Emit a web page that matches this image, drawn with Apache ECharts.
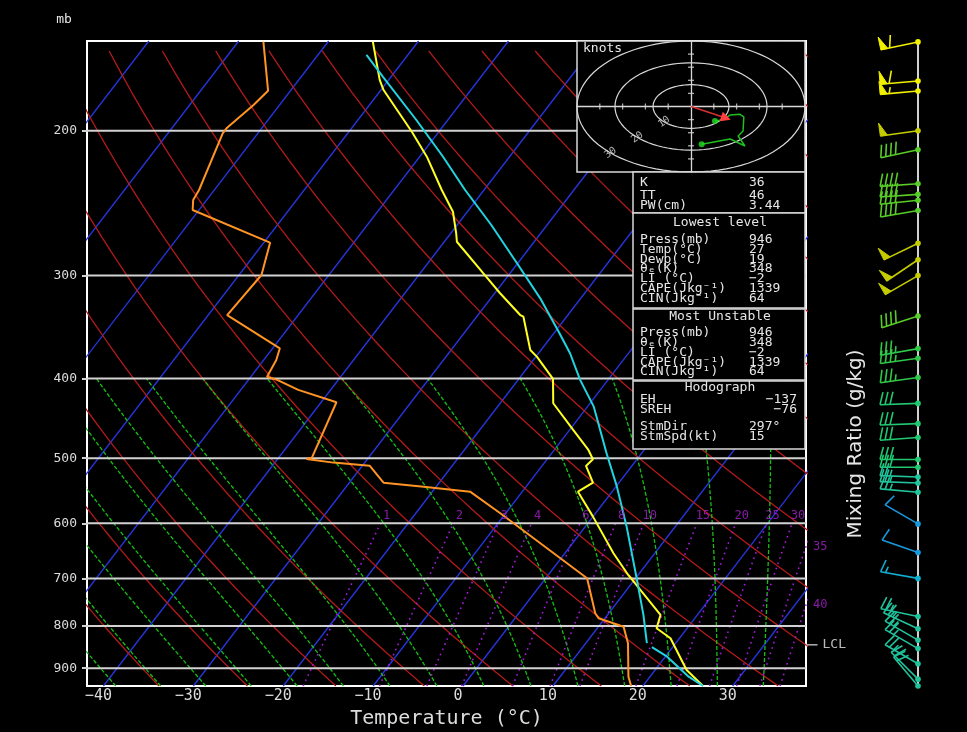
<!DOCTYPE html>
<html>
<head>
<meta charset="utf-8">
<title>Skew-T</title>
<script src="https://cdn.jsdelivr.net/npm/echarts@6.0.0/dist/echarts.min.js"></script>
<style>
html,body{margin:0;padding:0;background:#000;}
#chart{width:967px;height:732px;}
</style>
</head>
<body>
<div id="chart"></div>
<script>
// ===== Values =====
const pressureLevels = [200, 300, 400, 500, 600, 700, 800, 900];
const temperatureTicks = [-40, -30, -20, -10, 0, 10, 20, 30];
const isothermValues = [-90, -80, -70, -60, -50, -40, -30, -20, -10, 0, 10, 20, 30];
const dryAdiabatThetas = [-30, -20, -10, 0, 10, 20, 30, 40, 50, 60, 70, 80, 90, 100, 110, 120, 130, 140, 150, 160];
const moistAdiabatThetaW = [-40, -35, -30, -25, -20, -15, -10, -5, 0, 5, 10, 15, 20, 25, 30, 35];
const mixingRatioValues = [1, 2, 3, 4, 6, 8, 10, 15, 20, 25, 30, 35, 40];

// Temperature profile (hPa, degC)
const tempP = [156, 173.5, 178.5, 200.6, 215.1, 236.1, 250.9, 266.5, 272.9, 300.3, 315.2, 335.0, 336.6, 369.4, 376.4, 400.6, 428.8, 462.1, 488.7, 501.6, 511.1, 535.5, 549.2, 588.9, 652.4, 693.3, 701.1, 775.4, 804.8, 827.7, 904.4, 946];
const tempT = [-65.0, -61.0, -59.7, -53.0, -49.2, -44.7, -41.6, -39.4, -38.6, -32.5, -29.4, -25.3, -24.8, -21.2, -19.9, -16.2, -14.1, -9.6, -6.2, -4.9, -5.1, -2.9, -3.8, 0.0, 5.4, 8.9, 9.6, 15.9, 16.6, 19.0, 23.5, 26.7];

// Dew point profile
const dewP = [155.9, 178.8, 186.1, 198.3, 201.5, 236.1, 242.8, 249.7, 273.6, 299.5, 335.0, 367.7, 379.9, 398.1, 401.7, 413.1, 427.6, 499.3, 501.1, 506.3, 510.6, 535.5, 541.5, 549.2, 583.4, 699.7, 771.8, 782.7, 801.3, 839.3, 921.6, 946];
const dewT = [-77.2, -72.5, -72.9, -73.9, -73.9, -71.7, -71.5, -70.7, -59.3, -57.5, -57.9, -49.2, -48.6, -48.2, -46.8, -43.6, -38.3, -36.3, -36.8, -33.5, -29.2, -26.2, -21.4, -15.8, -10.6, 4.6, 8.5, 9.3, 12.8, 14.7, 17.6, 18.7];

// Lifted parcel: moist part above the LCL, dry part below
const parcelMoistP = [161.8, 172, 194.1, 215.1, 236.1, 260.4, 291.2, 319.7, 351, 372.8, 401.7, 432.9, 493.2, 541.5, 605.7, 703.1, 775.4, 839.3];
const parcelMoistT = [-64.6, -60.9, -53.5, -47.4, -42.1, -36.2, -29.8, -24.5, -19.6, -16.5, -13.1, -9.3, -3.9, 0.1, 4.6, 10.3, 14.0, 16.8];
const parcelDryP = [848.7, 871.4, 921.6, 946];
const parcelDryT = [17.7, 20.2, 24.3, 26.7];
const lclPressure = 843;

// Wind barbs
const windP = [156, 174, 179, 200, 211, 232, 239, 243, 250, 274, 287, 300, 336, 368, 378, 399, 429, 454, 472, 502, 513, 527, 536, 550, 601, 651, 700, 779, 806, 832, 852, 889, 928, 946];
const windDir = [258, 265, 265, 262, 258, 266, 266, 264, 260, 244, 236, 240, 252, 260, 262, 262, 268, 268, 266, 270, 270, 272, 272, 275, 300, 289, 280, 282, 295, 300, 300, 300, 315, 320];
const windSpd = [60, 60, 55, 50, 40, 40, 40, 40, 40, 50, 50, 50, 40, 35, 35, 35, 30, 30, 30, 30, 30, 25, 25, 25, 10, 10, 15, 25, 25, 25, 25, 25, 20, 20];

// Hodograph (knots)
const hodoU = [2.8, 10.3, 14.2, 12.4, 13.7, 13.9, 12.9, 10.3, 8.2, 6.3];
const hodoV = [-17.3, -14.9, -18.1, -13.5, -11.2, -4.8, -3.6, -3.9, -6.2, -6.6];
const stormMotion = [9.2, -5.3];
const ringSpeeds = [10, 20, 30];
const hodoTicks = [-24, -18, -12, -6, 6, 12, 18, 24];

// Text tables
const indexLabels = ['K', 'TT', 'PW(cm)'];
const indexValues = ['36', '46', '3.44'];
const lowestLabels = ['Press(mb)', 'Temp(°C)', 'Dewp(°C)', 'θₑ(K)', 'LI (°C)', 'CAPE(Jkg⁻¹)', 'CIN(Jkg⁻¹)'];
const lowestValues = ['946', '27', '19', '348', '−2', '1339', '64'];
const unstableLabels = ['Press(mb)', 'θₑ(K)', 'LI (°C)', 'CAPE(Jkg⁻¹)', 'CIN(Jkg⁻¹)'];
const unstableValues = ['946', '348', '−2', '1339', '64'];
const hodoLabels = ['EH', 'SREH', 'StmDir', 'StmSpd(kt)'];
const hodoValues = ['−137', '−76', '297°', '15'];

// ===== Diagram geometry =====
const PTOP = 155.6, PBOT = 946;
const XMIN = -41.27, XMAX = 38.71;
const SKEW = 30.5, PREF = 963.5;
const skewX = (T, p) => T + SKEW * Math.log(PREF / p);
const lnP = p => Math.log(p);
const pt = (T, p) => [skewX(T, p), lnP(p)];
const MONO = '"DejaVu Sans Mono", "Liberation Mono", monospace';

function satVap(Tc) { return 6.112 * Math.exp(17.67 * Tc / (Tc + 243.5)); }
function tempForMixingRatio(w, p) {
  const e = w * p / (622 + w);
  const a = Math.log(e / 6.112);
  return 243.5 * a / (17.67 - a);
}
function moistPoints(thw) {
  const pts = [];
  let T = thw + 273.15, p = 1000;
  const f = (pp, TT) => {
    const es = satVap(TT - 273.15);
    const rs = 0.622 * es / (pp - es);
    return (287.04 * TT + 2.501e6 * rs) / (1005.7 + 2.501e6 * 2.501e6 * rs * 0.622 / (287.04 * TT * TT)) / pp;
  };
  while (p >= 400) {
    if (p <= PBOT && (p === PBOT || p % 10 === 0)) pts.push(pt(T - 273.15, p));
    const h = -1;
    const k1 = f(p, T), k2 = f(p + h / 2, T + h / 2 * k1), k3 = f(p + h / 2, T + h / 2 * k2), k4 = f(p + h, T + h * k3);
    T += h / 6 * (k1 + 2 * k2 + 2 * k3 + k4);
    p += h;
  }
  return pts;
}
const dryPressures = [];
for (let p = 160; p < PBOT; p += 10) dryPressures.push(p);
dryPressures.push(PBOT);
const mixPressures = [];
for (let p = PBOT; p > 600; p -= 10) mixPressures.push(p);
mixPressures.push(600);

function line(data, color, width, type, z) {
  return {
    type: 'line', xAxisIndex: 0, yAxisIndex: 0, data: data, showSymbol: false, symbol: 'none',
    silent: true, animation: false, z: z, clip: true,
    lineStyle: { color: color, width: width, type: type || 'solid' }
  };
}

const series = [];
isothermValues.forEach(T => series.push(line([pt(T, PTOP), pt(T, PBOT)], '#2636e0', 1.3, 'solid', 1)));
dryAdiabatThetas.forEach(th => series.push(line(dryPressures.map(p => pt((th + 273.15) * Math.pow(p / 1000, 0.2857) - 273.15, p)), '#b41a1a', 1.3, 'solid', 1)));
moistAdiabatThetaW.forEach(tw => series.push(line(moistPoints(tw), '#14c014', 1.3, [4, 2], 1)));
mixingRatioValues.forEach(w => series.push(line(mixPressures.map(p => pt(tempForMixingRatio(w, p), p)), '#a818e0', 1.6, [1.6, 4], 1)));
pressureLevels.forEach(p => series.push(line([[XMIN, lnP(p)], [XMAX, lnP(p)]], '#d2d2d2', 2, 'solid', 3)));

// profiles
series.push(line(tempP.map((p, i) => pt(tempT[i], p)), '#ffff22', 2, 'solid', 5));
series.push(line(dewP.map((p, i) => pt(dewT[i], p)), '#ff9424', 2, 'solid', 5));
series.push(line(parcelMoistP.map((p, i) => pt(parcelMoistT[i], p)), '#22d4e0', 2, 'solid', 5));
series.push(line(parcelDryP.map((p, i) => pt(parcelDryT[i], p)), '#22d4e0', 2, 'solid', 5));

// mixing ratio labels
series.push({
  type: 'scatter', xAxisIndex: 0, yAxisIndex: 0, silent: true, animation: false, clip: false, z: 6,
  symbolSize: 0,
  data: mixingRatioValues.filter(w => w <= 30).map(w => ({ name: String(w), value: pt(tempForMixingRatio(w, 600), 600) })),
  label: { show: true, position: 'top', distance: 1, offset: [6, 0], formatter: '{b}', color: '#a820d0', fontSize: 12, fontFamily: MONO }
});
function exitPressure(w) {
  let lo = 400, hi = PBOT;
  for (let i = 0; i < 50; i++) {
    const mid = (lo + hi) / 2;
    if (skewX(tempForMixingRatio(w, mid), mid) > XMAX) lo = mid; else hi = mid;
  }
  return (lo + hi) / 2;
}
series.push({
  type: 'scatter', xAxisIndex: 0, yAxisIndex: 0, silent: true, animation: false, clip: false, z: 6,
  symbolSize: 0,
  data: mixingRatioValues.filter(w => w > 30).map(w => ({ name: String(w), value: [XMAX, lnP(exitPressure(w))] })),
  label: { show: true, position: 'right', distance: 7, formatter: '{b}', color: '#a820d0', fontSize: 12, fontFamily: MONO }
});
// LCL marker
series.push({
  type: 'scatter', xAxisIndex: 0, yAxisIndex: 0, silent: true, animation: false, clip: false, z: 7,
  symbol: 'rect', symbolSize: [11, 1.5], symbolOffset: [6, 0],
  itemStyle: { color: '#dddddd' },
  data: [{ name: 'LCL', value: [XMAX, lnP(lclPressure)] }],
  label: { show: true, position: 'right', distance: 5, formatter: '{b}', color: '#e8e8e8', fontSize: 13, fontFamily: MONO }
});

// ===== Hodograph =====
ringSpeeds.forEach(r => {
  const d = [];
  for (let a = 0; a <= 360; a += 4) d.push([r * Math.cos(a * Math.PI / 180), r * Math.sin(a * Math.PI / 180)]);
  series.push({ type: 'line', xAxisIndex: 1, yAxisIndex: 1, data: d, showSymbol: false, symbol: 'none', silent: true, animation: false, z: 15, clip: true, lineStyle: { color: '#d8d8d8', width: 1.2 } });
});
series.push({
  type: 'scatter', xAxisIndex: 1, yAxisIndex: 1, silent: true, animation: false, z: 16, symbolSize: 0,
  data: ringSpeeds.map(r => ({ name: String(r), value: [r * Math.cos(225 * Math.PI / 180), r * Math.sin(225 * Math.PI / 180)] })),
  label: { show: true, position: 'inside', rotate: 35, formatter: '{b}', color: '#e0e0e0', fontSize: 10, fontFamily: MONO }
});
series.push({
  type: 'scatter', xAxisIndex: 1, yAxisIndex: 1, silent: true, animation: false, z: 16,
  symbol: 'rect', symbolSize: [1.3, 6], itemStyle: { color: '#d8d8d8' },
  data: hodoTicks.map(t => [t, 0])
});
series.push({
  type: 'scatter', xAxisIndex: 1, yAxisIndex: 1, silent: true, animation: false, z: 16,
  symbol: 'rect', symbolSize: [6, 1.3], itemStyle: { color: '#d8d8d8' },
  data: hodoTicks.map(t => [0, t])
});
const hodoData = hodoU.map((u, i) => [u, hodoV[i]]);
series.push({
  type: 'line', xAxisIndex: 1, yAxisIndex: 1, silent: true, animation: false, z: 17,
  data: hodoData, showSymbol: false, symbol: 'none', lineStyle: { color: '#1ec01e', width: 1.5 }
});
series.push({
  type: 'scatter', xAxisIndex: 1, yAxisIndex: 1, silent: true, animation: false, z: 18,
  symbol: 'circle', symbolSize: 6, itemStyle: { color: '#22dd22' },
  data: [hodoData[0], hodoData[hodoData.length - 1]]
});
const stormAngle = Math.atan2(stormMotion[1] * 131 / 60, stormMotion[0] * 228 / 60) * 180 / Math.PI;
series.push({
  type: 'line', xAxisIndex: 1, yAxisIndex: 1, silent: true, animation: false, z: 19,
  data: [{ value: [0, 0], symbol: 'none' }, { value: stormMotion, symbol: 'triangle', symbolSize: 10, symbolRotate: stormAngle - 90 }],
  showSymbol: true, lineStyle: { color: '#d83030', width: 1.5 }, itemStyle: { color: '#ff4040' }
});

// ===== Wind barbs =====
function barbColor(s) {
  if (s >= 55) return '#f0f000';
  if (s >= 45) return '#c4cc00';
  if (s >= 38) return '#58cc28';
  if (s >= 33) return '#30c848';
  if (s >= 28) return '#20c870';
  if (s >= 18) return '#20c49c';
  if (s >= 13) return '#10aed0';
  return '#1898dc';
}
series.push({
  type: 'custom', xAxisIndex: 2, yAxisIndex: 2, silent: true, animation: false, z: 8,
  data: windP.map((p, i) => [0, lnP(p), windDir[i], windSpd[i]]),
  renderItem: function (params, api) {
    const o = api.coord([api.value(0), api.value(1)]);
    const dir = api.value(2) * Math.PI / 180, spd = api.value(3);
    const ux = Math.sin(dir), uy = -Math.cos(dir);
    const nx = -uy, ny = ux;
    const L = 38, F = 13, step = 5;
    const col = barbColor(spd);
    const tip = [o[0] + ux * L, o[1] + uy * L];
    const at = d => [tip[0] - ux * d, tip[1] - uy * d];
    const ca = Math.cos(15 * Math.PI / 180), sa = Math.sin(15 * Math.PI / 180);
    const fx = nx * ca - ux * sa, fy = ny * ca - uy * sa;
    const ch = [{ type: 'line', shape: { x1: o[0], y1: o[1], x2: tip[0], y2: tip[1] }, style: { stroke: col, lineWidth: 1.6 } }];
    let s = Math.round(spd / 5) * 5, pos = 0;
    while (s >= 50) {
      const b0 = at(pos), b1 = at(pos + 7);
      ch.push({ type: 'polygon', shape: { points: [b0, [b0[0] + nx * F, b0[1] + ny * F], b1] }, style: { fill: col, stroke: col, lineWidth: 1 } });
      pos += 9; s -= 50;
    }
    while (s >= 10) {
      const b = at(pos);
      ch.push({ type: 'line', shape: { x1: b[0], y1: b[1], x2: b[0] + fx * F, y2: b[1] + fy * F }, style: { stroke: col, lineWidth: 1.6 } });
      pos += step; s -= 10;
    }
    if (s >= 5) {
      if (pos === 0) pos = step;
      const b = at(pos);
      ch.push({ type: 'line', shape: { x1: b[0], y1: b[1], x2: b[0] + fx * F / 2, y2: b[1] + fy * F / 2 }, style: { stroke: col, lineWidth: 1.6 } });
    }
    ch.push({ type: 'circle', shape: { cx: o[0], cy: o[1], r: 2.8 }, style: { fill: col } });
    return { type: 'group', children: ch };
  }
});

// ===== Tables (graphic overlay) =====
const TXT = '#e6e6e6';
const graphics = [];
function box(x, y, w, h) {
  graphics.push({ type: 'rect', z: 10, silent: true, shape: { x: x, y: y, width: w, height: h }, style: { fill: '#000', stroke: '#d8d8d8', lineWidth: 1.5 } });
}
function txt(x, y, s, align, size) {
  graphics.push({ type: 'text', z: 11, silent: true, x: x, y: y,
    style: { text: s, fill: TXT, font: (size || 13) + 'px ' + MONO, textAlign: align || 'left', textVerticalAlign: 'middle', align: align || 'left', verticalAlign: 'middle' } });
}
box(577, 41, 228, 131);
box(633, 172, 172, 41);
box(633, 213, 172, 95);
box(633, 309, 172, 71);
box(633, 381, 172, 68);
txt(583, 49, 'knots', 'left', 13);
const LX = 640, VX = 749, VR = 797;
[183, 196, 206].forEach((y, i) => { txt(LX, y, indexLabels[i]); txt(VX, y, indexValues[i]); });
txt(720, 223, 'Lowest level', 'center');
lowestLabels.forEach((l, i) => { const y = 240 + i * 9.7; txt(LX, y, l); txt(VX, y, lowestValues[i]); });
txt(720, 317, 'Most Unstable', 'center');
unstableLabels.forEach((l, i) => { const y = 333 + i * 9.75; txt(LX, y, l); txt(VX, y, unstableValues[i]); });
txt(720, 388, 'Hodograph', 'center');
[400, 410, 427, 437].forEach((y, i) => { txt(LX, y, hodoLabels[i]); if (i < 2) txt(VR, y, hodoValues[i], 'right'); else txt(VX, y, hodoValues[i]); });
graphics.push({ type: 'text', z: 11, silent: true, x: 64, y: 20,
  style: { text: 'mb', fill: TXT, font: '13px ' + MONO, textAlign: 'center', textVerticalAlign: 'middle', align: 'center', verticalAlign: 'middle' } });
graphics.push({ type: 'text', z: 11, silent: true, x: 856, y: 444, rotation: Math.PI / 2,
  style: { text: 'Mixing Ratio (g/kg)', fill: TXT, font: '20px "DejaVu Sans", sans-serif', textAlign: 'center', textVerticalAlign: 'middle', align: 'center', verticalAlign: 'middle' } });

const minus = v => (v < 0 ? '\u2212' : '') + Math.abs(Math.round(v));

const option = {
  backgroundColor: '#000',
  animation: false,
  grid: [
    { left: 87, top: 41, width: 719, height: 645, show: true, backgroundColor: '#000', borderColor: '#ffffff', borderWidth: 2, containLabel: false, outerBoundsMode: 'none' },
    { left: 577, top: 41, width: 228, height: 131, show: false, containLabel: false, outerBoundsMode: 'none' },
    { left: 918, top: 41, width: 20, height: 645, show: false, containLabel: false, outerBoundsMode: 'none' }
  ],
  xAxis: [
    { gridIndex: 0, type: 'value', min: XMIN, max: XMAX, position: 'bottom',
      axisLine: { show: false, onZero: false }, axisTick: { show: false }, splitLine: { show: false },
      axisLabel: { customValues: temperatureTicks, formatter: minus, color: '#dcdcdc', fontFamily: MONO, fontSize: 15, margin: 3 },
      name: 'Temperature (°C)', nameLocation: 'middle', nameGap: 22,
      nameTextStyle: { color: '#dcdcdc', fontFamily: MONO, fontSize: 20 } },
    { gridIndex: 1, type: 'value', min: -30, max: 30, z: 15,
      axisLine: { onZero: true, lineStyle: { color: '#d8d8d8', width: 1.3 } }, axisTick: { show: false }, axisLabel: { show: false }, splitLine: { show: false } },
    { gridIndex: 2, type: 'value', min: 0, max: 1, show: false }
  ],
  yAxis: [
    { gridIndex: 0, type: 'value', inverse: true, min: lnP(PTOP), max: lnP(PBOT), position: 'left',
      axisLine: { show: false, onZero: false }, splitLine: { show: false },
      axisTick: { show: true, customValues: pressureLevels.map(lnP), length: 5, lineStyle: { color: '#cfcfcf', width: 2 } },
      axisLabel: { customValues: pressureLevels.map(lnP), formatter: v => String(Math.round(Math.exp(v))), color: '#dcdcdc', fontFamily: MONO, fontSize: 13, margin: 10 } },
    { gridIndex: 1, type: 'value', min: -30, max: 30, z: 15,
      axisLine: { onZero: true, lineStyle: { color: '#d8d8d8', width: 1.3 } }, axisTick: { show: false }, axisLabel: { show: false }, splitLine: { show: false } },
    { gridIndex: 2, type: 'value', inverse: true, min: lnP(PTOP), max: lnP(PBOT), position: 'left',
      axisLine: { show: true, onZero: false, lineStyle: { color: '#d0d0d0', width: 2 } }, axisTick: { show: false }, axisLabel: { show: false }, splitLine: { show: false } }
  ],
  graphic: graphics,
  series: series
};

const chart = echarts.init(document.getElementById('chart'), null, { renderer: 'canvas' });
chart.setOption(option);
</script>
</body>
</html>
